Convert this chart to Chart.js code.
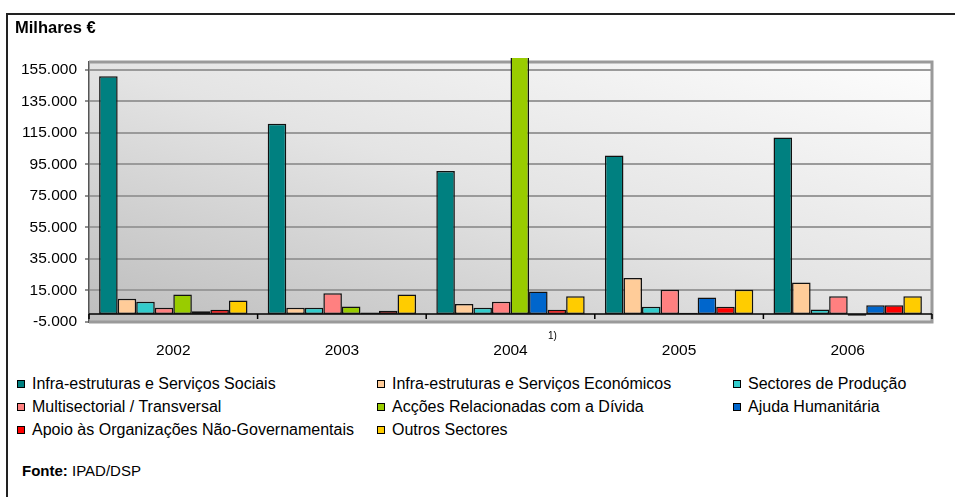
<!DOCTYPE html>
<html>
<head>
<meta charset="utf-8">
<script src="https://cdn.jsdelivr.net/npm/chart.js@4/dist/chart.umd.min.js"></script>
<style>
body{margin:0;background:#fff;font-family:"Liberation Sans",Arial,sans-serif;}
#page{position:relative;width:955px;height:497px;overflow:hidden;}
#frame{position:absolute;left:6px;top:13px;right:-10px;bottom:-10px;border-left:2px solid #222;border-top:2px solid #222;}
#title{position:absolute;left:15px;top:18px;font-weight:bold;font-size:16.5px;color:#000;}
#box{position:absolute;left:0;top:0;width:955px;height:370px;}
.leg{position:absolute;font-size:16px;color:#000;white-space:nowrap;line-height:20px;}
.leg i{display:inline-block;width:6px;height:6px;border:1px solid #000;margin-right:7px;vertical-align:1px;}
#fonte{position:absolute;left:22px;top:462px;font-size:15px;color:#000;}
</style>
</head>
<body>
<div id="page">
<div id="frame"></div>
<div id="box"><canvas id="c"></canvas></div>
<div id="title">Milhares €</div>
<div id="legend"></div>
<div id="fonte"><b>Fonte:</b> IPAD/DSP</div>
</div>
<script>
// valores em milhares de euros
const years = ["2002","2003","2004","2005","2006"]
const sociais = [151000,120800,90900,100600,112100]
const economicos = [9700,4000,6500,23000,20000]
const producao = [7800,4000,4000,4600,3000]
const multisectorial = [4000,13300,7800,15400,11400]
const divida = [12400,4800,175000,800,-1000]
const humanitaria = [1900,1000,14400,10500,5700]
const ong = [2700,2100,2700,4600,5700]
const outros = [8600,12400,11400,15400,11400]
const yTicks = [-5000,15000,35000,55000,75000,95000,115000,135000,155000]

const names = [
"Infra-estruturas e Serviços Sociais",
"Infra-estruturas e Serviços Económicos",
"Sectores de Produção",
"Multisectorial / Transversal",
"Acções Relacionadas com a Dívida",
"Ajuda Humanitária",
"Apoio às Organizações Não-Governamentais",
"Outros Sectores"
]
const colors = ["#008080","#FFCC99","#33CCCC","#FF8080","#99CC00","#0066CC","#FF0000","#FFCC00"]
const series = [sociais,economicos,producao,multisectorial,divida,humanitaria,ong,outros]

const fmt = v => String(v).replace(/\B(?=(\d{3})+(?!\d))/g,".")

const deco = {
id:"deco",
beforeDraw(chart){
const {ctx,chartArea:a} = chart
const w=a.right-a.left, h=a.bottom-a.top
const cx=(a.left+a.right)/2, cy=(a.top+a.bottom)/2
const k=w*h/(w*w+h*h)
const g=ctx.createLinearGradient(cx-h*k,cy+w*k,cx+h*k,cy-w*k)
g.addColorStop(0,"#bdbdbd")
g.addColorStop(0.5,"#e4e4e4")
g.addColorStop(1,"#fdfdfd")
ctx.save()
ctx.fillStyle=g
ctx.fillRect(a.left,a.top,w,h)
ctx.restore()
},
beforeDatasetsDraw(chart){
const {ctx,chartArea:a,scales} = chart
ctx.save()
ctx.strokeStyle="#9a9a9a"
ctx.lineWidth=3
ctx.beginPath()
ctx.moveTo(a.left,a.top)
ctx.lineTo(a.right,a.top)
ctx.lineTo(a.right,a.bottom)
ctx.lineTo(a.left,a.bottom)
ctx.stroke()
const y0=scales.y.getPixelForValue(0)
ctx.strokeStyle="#000"
ctx.lineWidth=1.5
ctx.beginPath()
ctx.moveTo(a.left,y0)
ctx.lineTo(a.right,y0)
const step=(scales.x.right-scales.x.left)/years.length
for(let i=0;i<=years.length;i++){
const x=scales.x.left+step*i
ctx.moveTo(x,y0)
ctx.lineTo(x,y0+5)
}
ctx.stroke()
ctx.restore()
},
afterDraw(chart){
const {ctx,scales} = chart
ctx.save()
ctx.fillStyle="#000"
ctx.font="10px 'Liberation Sans', Arial"
ctx.textAlign="center"
ctx.textBaseline="middle"
ctx.fillText("1)",scales.x.getPixelForValue(2)+42,336)
ctx.restore()
}
}

new Chart(
document.getElementById("c"),
{
type:"bar",
data:{
labels:years,
datasets:series.map((d,i)=>({
label:names[i],
data:d,
backgroundColor:colors[i],
borderColor:"#111",
borderWidth:1.5,
borderSkipped:false,
categoryPercentage:0.88,
barPercentage:1,
clip:{left:0,top:4,right:0,bottom:0}
}))
},
options:{
responsive:true,
maintainAspectRatio:false,
animation:false,
layout:{padding:{left:0,top:62,right:23,bottom:0}},
plugins:{legend:{display:false},tooltip:{enabled:false}},
scales:{
x:{
grid:{display:false},
border:{display:false},
ticks:{color:"#000",font:{family:"'Liberation Sans', Arial",size:15.5},padding:11},
afterFit(s){s.height=48}
},
y:{
min:-5000,
max:160000,
afterBuildTicks(s){s.ticks=yTicks.map(v=>({value:v}))},
afterFit(s){s.width=89},
grid:{color:"#9a9a9a",lineWidth:2,tickColor:"#222",tickWidth:1,tickLength:4},
border:{display:true,color:"#555",width:1.5},
ticks:{color:"#000",padding:8,font:{family:"'Liberation Sans', Arial",size:15.5},callback:v=>fmt(v)}
}
}
},
plugins:[deco]
}
)

// legenda em 3 colunas
const colX=[17,377,733]
const rowY=[374,397,420]
let leg=""
names.forEach((n,i)=>{
leg+=`<div class="leg" style="left:${colX[i%3]}px;top:${rowY[Math.floor(i/3)]}px"><i style="background:${colors[i]}"></i>${n}</div>`
})
document.getElementById("legend").innerHTML=leg
</script>
</body>
</html>
